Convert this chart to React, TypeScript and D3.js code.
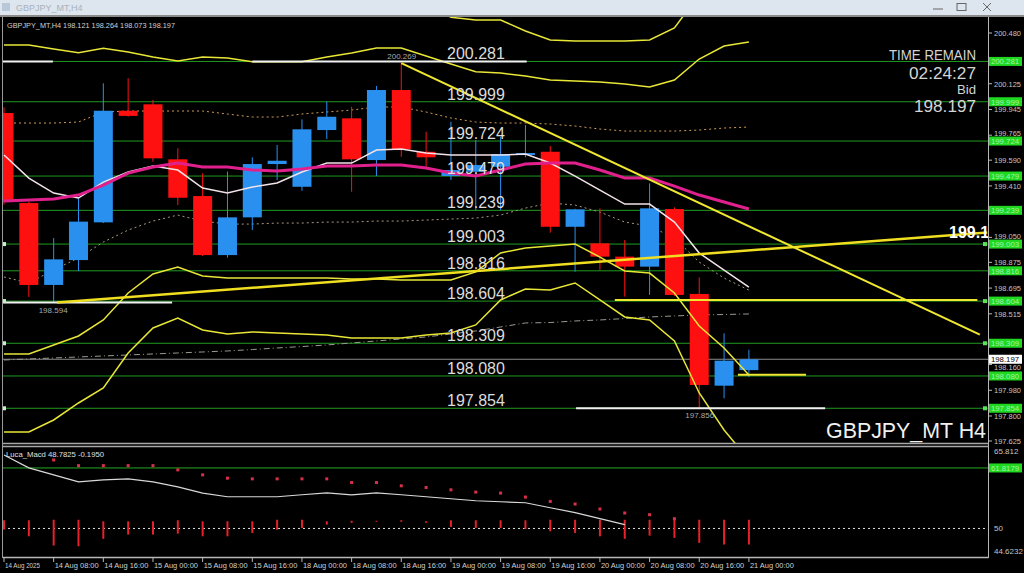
import * as d3 from "d3";

const W = 1024;
const H = 573;

// H4 bars, 14 Aug 00:00 .. 21 Aug 00:00 (31 bars), a label every second bar
const timeLabels = [
  "14 Aug 2025", "14 Aug 08:00", "14 Aug 16:00", "15 Aug 00:00", "15 Aug 08:00",
  "15 Aug 16:00", "18 Aug 00:00", "18 Aug 08:00", "18 Aug 16:00", "19 Aug 00:00",
  "19 Aug 08:00", "19 Aug 16:00", "20 Aug 00:00", "20 Aug 08:00", "20 Aug 16:00",
  "21 Aug 00:00",
];

const opens = [199.92, 199.29, 198.717, 198.891, 199.155, 199.936, 199.981, 199.596, 199.339, 198.926, 199.19, 199.563, 199.404, 199.801, 199.883, 199.591, 200.081, 199.649, 199.479, 199.509, 199.544, 199.626, 199.649, 199.124, 199.008, 198.915, 198.845, 199.248, 198.654, 198.012, 198.121];
const highs = [199.96, 199.3, 199.045, 199.325, 200.128, 200.163, 200.011, 199.673, 199.498, 199.51, 199.61, 199.696, 199.876, 199.999, 199.964, 200.109, 200.269, 199.789, 199.859, 199.731, 199.754, 199.836, 199.689, 199.25, 199.253, 199.031, 199.428, 199.26, 198.77, 198.379, 198.264];
const lows = [199.28, 198.633, 198.594, 198.814, 199.15, 199.895, 199.579, 199.276, 198.92, 198.908, 199.101, 199.451, 199.376, 199.738, 199.369, 199.479, 199.614, 199.544, 199.451, 199.241, 199.241, 199.61, 199.083, 198.81, 198.822, 198.635, 198.647, 198.64, 197.856, 197.924, 198.073];
const closes = [199.297, 198.717, 198.896, 199.16, 199.936, 199.9, 199.603, 199.327, 198.926, 199.19, 199.563, 199.586, 199.806, 199.894, 199.596, 200.081, 199.666, 199.61, 199.521, 199.556, 199.633, 199.64, 199.124, 199.246, 198.915, 198.845, 199.253, 198.647, 198.017, 198.187, 198.197];

const fastMa = [199.626, 199.465, 199.36, 199.325, 199.437, 199.507, 199.549, 199.521, 199.395, 199.36, 199.402, 199.43, 199.507, 199.57, 199.57, 199.661, 199.668, 199.64, 199.626, 199.626, 199.626, 199.633, 199.57, 199.479, 199.381, 199.283, 199.283, 199.157, 198.94, 198.821, 198.702];
const slowMa = [199.304, 199.311, 199.318, 199.346, 199.416, 199.5, 199.542, 199.57, 199.542, 199.542, 199.521, 199.514, 199.528, 199.549, 199.549, 199.556, 199.556, 199.535, 199.5, 199.479, 199.521, 199.563, 199.57, 199.57, 199.521, 199.465, 199.465, 199.409, 199.346, 199.297, 199.248];
const longMa = [198.192, 198.199, 198.206, 198.213, 198.22, 198.227, 198.234, 198.241, 198.248, 198.255, 198.265, 198.276, 198.286, 198.297, 198.311, 198.325, 198.339, 198.353, 198.374, 198.395, 198.423, 198.451, 198.454, 198.465, 198.472, 198.482, 198.493, 198.5, 198.507, 198.51, 198.514];
const dotUpper = [199.85, 199.85, 199.85, 199.857, 199.927, 199.934, 199.934, 199.934, 199.934, 199.913, 199.892, 199.892, 199.913, 199.927, 199.941, 199.962, 199.962, 199.927, 199.885, 199.857, 199.85, 199.85, 199.843, 199.829, 199.808, 199.794, 199.794, 199.794, 199.801, 199.815, 199.822];
const dotLower = [198.773, 198.731, 198.822, 198.906, 199.017, 199.101, 199.164, 199.206, 199.164, 199.143, 199.143, 199.15, 199.15, 199.157, 199.157, 199.164, 199.164, 199.171, 199.178, 199.185, 199.206, 199.255, 199.29, 199.276, 199.227, 199.157, 199.129, 199.045, 198.877, 198.765, 198.681];
const innerUpper = [200.396, 200.396, 200.368, 200.342, 200.373, 200.347, 200.312, 200.284, 200.312, 200.305, 200.279, 200.279, 200.279, 200.312, 200.34, 200.375, 200.375, 200.319, 200.263, 200.209, 200.2, 200.179, 200.151, 200.144, 200.137, 200.123, 200.102, 200.151, 200.298, 200.389, 200.417];
const innerLower = [198.234, 198.234, 198.297, 198.36, 198.472, 198.661, 198.794, 198.843, 198.78, 198.766, 198.766, 198.766, 198.766, 198.766, 198.759, 198.759, 198.752, 198.752, 198.752, 198.808, 198.941, 198.976, 198.989, 199.003, 198.912, 198.815, 198.8, 198.661, 198.43, 198.276, 198.087];
const outerUpper = [200.95, 200.95, 200.9, 200.86, 200.78, 200.7, 200.66, 200.62, 200.64, 200.66, 200.66, 200.67, 200.68, 200.7, 200.72, 200.74, 200.74, 200.7, 200.59, 200.571, 200.571, 200.494, 200.431, 200.424, 200.424, 200.424, 200.431, 200.515, 200.75, 200.95, 201.15];
const outerLower = [197.688, 197.688, 197.772, 197.891, 197.996, 198.241, 198.416, 198.486, 198.402, 198.374, 198.388, 198.381, 198.374, 198.367, 198.346, 198.346, 198.346, 198.367, 198.381, 198.437, 198.612, 198.689, 198.682, 198.731, 198.612, 198.493, 198.472, 198.325, 197.961, 197.702, 197.492];

const levels = [200.281, 199.999, 199.724, 199.479, 199.239, 199.003, 198.816, 198.604, 198.309, 198.08, 197.854];
const markedLevels = [199.003, 198.604, 198.309, 197.854];
// visible scale labels (the ones hidden under the level boxes are left out)
const priceTicks = ["200.480", "200.125", "199.945", "199.765", "199.590", "199.410", "199.050", "198.875", "198.695", "198.515", "198.160", "197.980", "197.800", "197.625"];
const bid = 198.197;

// drawn objects: [barIndex, price]
const trendUp = [[2.13, 198.594], [39.6, 199.084]];
const trendDown = [[16, 200.269], [39.3, 198.37]];
const whiteLines = [
  [[-0.05, 200.281], [1.97, 200.281]],
  [[10.0, 200.281], [21.05, 200.281]],
  [[-0.05, 198.594], [6.77, 198.594]],
  [[23.04, 197.854], [33.07, 197.854]],
];
const yellowLines = [
  [[24.6, 198.612], [39.2, 198.612]],
  [[29.56, 198.089], [32.3, 198.089]],
];

// Luca_Macd sub window
const macdLine = [64.35, 61.83, 60.47, 59.1, 59.49, 59.69, 59.1, 58.13, 56.91, 56.19, 56.19, 56.19, 56.58, 56.97, 56.58, 56.97, 56.58, 56.19, 55.8, 55.41, 55.22, 55.02, 54.05, 53.08, 51.91, 50.74];
const macdDots = [null, null, 63.38, 62.27, 62.27, 62.27, 62.27, 61.44, 60.47, 59.82, 59.69, 59.69, 59.69, 59.69, 58.97, 58.97, 58.33, 58.0, 57.55, 57.1, 56.91, 56.13, 55.28, 54.77, 53.8, 53.02, 52.69, 51.91, null, null, null];
const histHigh = [51.6, 51.6, 51.7, 51.7, 51.4, 51.4, 51.4, 51.6, 51.4, 51.4, 51.4, 51.7, 51.7, 51.4, 51.5, 51.5, 51.6, 51.4, 51.6, 51.6, 51.6, 51.6, 51.7, 51.7, 51.7, 51.7, 51.7, 51.9, 51.7, 51.7, 51.7];
const histLow = [49.8, 48.47, 46.66, 46.53, 47.97, 48.8, 48.8, 48.99, 48.47, 48.47, 49.13, 49.77, 50.1, 50.75, 51.1, 51.3, 51.3, 51.1, 50.3, 50.1, 50.1, 49.9, 49.44, 49.13, 48.47, 47.97, 48.6, 48.16, 47.19, 46.86, 46.86];
const macdLevel = 61.8179;

const FONT = "'Liberation Sans', Arial, sans-serif";
const BLUE = "#2a90f0";
const RED = "#ff1010";
const YELLOW = "#e8e636";
const GREEN = "#1f9a1f";

const xs = d3.scaleLinear().domain([0, 30]).range([4, 748.9]);
const ys = d3.scaleLinear().domain([197.625, 200.48]).range([441, 33]);
const ms = d3.scaleLinear().domain([44.6232, 65.812]).range([556, 447.5]);

const priceLine = d3.line<number>().x((_, i) => xs(i)).y((d) => ys(d));
const macdPath = d3.line<number>().x((_, i) => xs(i)).y((d) => ms(d));

// small nudges so the scale labels don't sit on the level boxes
const tickNudge: Record<string, number> = { "199.765": -2, "198.160": 2.5, "199.050": -1.5 };

function Seg({ pts, color, width, dash }: { pts: number[][]; color: string; width: number; dash?: string }) {
  return (
    <line
      x1={xs(pts[0][0])}
      y1={ys(pts[0][1])}
      x2={xs(pts[1][0])}
      y2={ys(pts[1][1])}
      stroke={color}
      strokeWidth={width}
      strokeDasharray={dash}
    />
  );
}

export default function App() {
  return (
    <svg width={W} height={H} style={{ position: "absolute", left: 0, top: 0, background: "#000" }} fontFamily={FONT}>
      <defs>
        <clipPath id="main">
          <rect x={3} y={17} width={985} height={426} />
        </clipPath>
        <clipPath id="sub">
          <rect x={3} y={447} width={985} height={110} />
        </clipPath>
      </defs>
      <rect width={W} height={H} fill="#000" />

      {/* window title */}
      <rect x={0} y={0} width={W} height={15} fill="#dde5ee" />
      <rect x={2} y={3} width={8} height={8} fill="#b9c8d8" />
      <text x={16} y={11} fontSize={9} fill="#a8b2bc">GBPJPY_MT,H4</text>
      <line x1={933} x2={943} y1={9} y2={9} stroke="#666" />
      <rect x={957} y={3.5} width={9} height={7} fill="none" stroke="#666" />
      <path d="M983,3 L991,11 M991,3 L983,11" stroke="#666" />
      <line x1={0} x2={W} y1={16} y2={16} stroke="#8a8a8a" strokeWidth={2} />

      <g clipPath="url(#main)">
        {/* level lines */}
        {levels.map((l) => (
          <line key={l} x1={3} x2={988} y1={ys(l)} y2={ys(l)} stroke={GREEN} strokeWidth={1} />
        ))}
        <line x1={3} x2={988} y1={ys(bid)} y2={ys(bid)} stroke="#8c8c8c" strokeWidth={1} />
        <path d={priceLine(longMa) ?? ""} fill="none" stroke="#9a9a90" strokeWidth={1} strokeDasharray="6 3 1 3" />
        <path d={priceLine(dotUpper) ?? ""} fill="none" stroke="#d09a55" strokeWidth={1} strokeDasharray="2 3" />
        <path d={priceLine(dotLower) ?? ""} fill="none" stroke="#a89a80" strokeWidth={1} strokeDasharray="2 3" />

        {/* candles */}
        {opens.map((o, i) => {
          const c = closes[i];
          const col = c >= o ? BLUE : RED;
          const x = xs(i);
          const top = ys(Math.max(o, c));
          const bot = ys(Math.min(o, c));
          return (
            <g key={i}>
              <line x1={x} x2={x} y1={ys(highs[i])} y2={ys(lows[i])} stroke={col} strokeWidth={1} />
              <rect x={x - 9.5} y={top} width={19} height={Math.max(2, bot - top)} fill={col} />
            </g>
          );
        })}

        {/* bands */}
        {[outerUpper, innerUpper, innerLower, outerLower].map((s, k) => (
          <path key={k} d={priceLine(s) ?? ""} fill="none" stroke={YELLOW} strokeWidth={1.5} />
        ))}
        <path d={priceLine(fastMa) ?? ""} fill="none" stroke="#f2e2ea" strokeWidth={1.5} />
        <path d={priceLine(slowMa) ?? ""} fill="none" stroke="#e0208c" strokeWidth={3} />

        {/* objects */}
        {whiteLines.map((p, k) => (
          <Seg key={k} pts={p} color="#f0f0f0" width={2} />
        ))}
        {yellowLines.map((p, k) => (
          <Seg key={k} pts={p} color="#f0e830" width={2} />
        ))}
        <Seg pts={trendUp} color="#f0de20" width={2.5} />
        <Seg pts={trendDown} color="#f0e830" width={2} />

        {levels.map((l) => (
          <text key={l} x={447} y={ys(l) - 2} fontSize={16} fill="#dcdcdc">
            {l.toFixed(3)}
          </text>
        ))}
        <text x={xs(2) - 15} y={ys(198.594) + 10} fontSize={8} fill="#a8a8a8">198.594</text>
        <text x={xs(16) - 14} y={ys(200.269) - 4} fontSize={8} fill="#a8a8a8">200.269</text>
        <text x={xs(28) - 14} y={ys(197.856) + 10} fontSize={8} fill="#a8a8a8">197.856</text>
        <text x={949} y={ys(199.084) + 6} fontSize={16} fontWeight="bold" fill="#ffffff">199.1</text>

        {markedLevels.map((l) => (
          <g key={l}>
            <rect x={2} y={ys(l) - 2} width={4} height={4} fill="#c8f0c8" />
            <rect x={983} y={ys(l) - 2} width={4} height={4} fill="#5ce05c" />
          </g>
        ))}

        <text x={976} y={60} fontSize={15} fill="#d4d4d4" textAnchor="end" textLength={87} lengthAdjust="spacingAndGlyphs">TIME REMAIN</text>
        <text x={976} y={79} fontSize={17} fill="#d4d4d4" textAnchor="end" textLength={67} lengthAdjust="spacingAndGlyphs">02:24:27</text>
        <text x={976} y={94} fontSize={12.5} fill="#d4d4d4" textAnchor="end" textLength={19} lengthAdjust="spacingAndGlyphs">Bid</text>
        <text x={976} y={112} fontSize={17} fill="#d4d4d4" textAnchor="end" textLength={62} lengthAdjust="spacingAndGlyphs">198.197</text>
      </g>

      <text x={7} y={28} fontSize={8} fill="#d0d0d0" textLength={168} lengthAdjust="spacingAndGlyphs">
        GBPJPY_MT,H4  198.121 198.264 198.073 198.197
      </text>

      {/* sub window */}
      <g clipPath="url(#sub)">
        <line x1={3} x2={988} y1={ms(macdLevel)} y2={ms(macdLevel)} stroke="#24a824" strokeWidth={1} />
        <line x1={3} x2={988} y1={ms(50)} y2={ms(50)} stroke="#e0e0e0" strokeWidth={1} strokeDasharray="2 3" />
        {histHigh.map((h, i) => (
          <line key={i} x1={xs(i)} x2={xs(i)} y1={ms(h)} y2={ms(histLow[i])} stroke="#e8202a" strokeWidth={2} />
        ))}
        {macdDots.map((d, i) =>
          d == null ? null : <rect key={i} x={xs(i) - 1.5} y={ms(d) - 1.5} width={3} height={3} fill="#d83048" />
        )}
        <path d={macdPath(macdLine) ?? ""} fill="none" stroke="#d8d8d8" strokeWidth={1.2} />
      </g>
      <text x={6} y={457} fontSize={8} fill="#e0e0e0" textLength={98} lengthAdjust="spacingAndGlyphs">
        Luca_Macd 48.7825  -0.1950
      </text>

      {/* frame */}
      <line x1={2.5} x2={2.5} y1={17} y2={558} stroke="#9a9a9a" />
      <line x1={988.5} x2={988.5} y1={17} y2={558} stroke="#b8b8b8" />
      <line x1={3} x2={988.5} y1={443.5} y2={443.5} stroke="#a8a8a8" strokeWidth={1.5} />
      <line x1={3} x2={988.5} y1={446.5} y2={446.5} stroke="#a8a8a8" strokeWidth={1.5} />
      <line x1={3} x2={988.5} y1={557.5} y2={557.5} stroke="#b8b8b8" strokeWidth={1.5} />

      <text x={986} y={438} fontSize={22} fill="#f0f0f0" textAnchor="end" textLength={160} lengthAdjust="spacingAndGlyphs">GBPJPY_MT H4</text>

      {/* price axis */}
      {priceTicks.map((t) => {
        const y = ys(+t);
        const ty = y + (tickNudge[t] ?? 0);
        return (
          <g key={t}>
            <line x1={988} x2={992} y1={y} y2={y} stroke="#b8b8b8" />
            <text x={994} y={ty + 3} fontSize={7.5} fill="#c4c4c4" textLength={27} lengthAdjust="spacingAndGlyphs">{t}</text>
          </g>
        );
      })}
      {levels.map((l) => (
        <g key={l}>
          <rect x={989} y={ys(l) - 4.5} width={33} height={9} fill="#1fd81f" />
          <text x={991} y={ys(l) + 3} fontSize={8} fill="#a6f2a6" textLength={28} lengthAdjust="spacingAndGlyphs">{l.toFixed(3)}</text>
        </g>
      ))}
      <rect x={989} y={ys(bid) - 4.5} width={33} height={9} fill="#ffffff" />
      <text x={991} y={ys(bid) + 3} fontSize={8} fill="#000" textLength={28} lengthAdjust="spacingAndGlyphs">198.197</text>

      {/* sub axis */}
      <text x={994} y={ms(65.812) + 6} fontSize={8} fill="#c4c4c4">65.812</text>
      <rect x={989} y={ms(macdLevel) - 4.5} width={33} height={9} fill="#1fd81f" />
      <text x={991} y={ms(macdLevel) + 3} fontSize={8} fill="#a6f2a6" textLength={28} lengthAdjust="spacingAndGlyphs">61.8179</text>
      <text x={994} y={ms(50) + 3} fontSize={8} fill="#c4c4c4">50</text>
      <text x={994} y={ms(44.6232) - 2} fontSize={8} fill="#c4c4c4">44.6232</text>

      {/* time axis */}
      {timeLabels.map((t, k) => {
        const x = xs(k * 2);
        return (
          <g key={t}>
            <line x1={x} x2={x} y1={558} y2={562} stroke="#b8b8b8" />
            <text x={x + 1} y={568} fontSize={8} fill="#d0d0d0" textLength={k === 0 ? 35 : 44} lengthAdjust="spacingAndGlyphs">{t}</text>
          </g>
        );
      })}
    </svg>
  );
}
